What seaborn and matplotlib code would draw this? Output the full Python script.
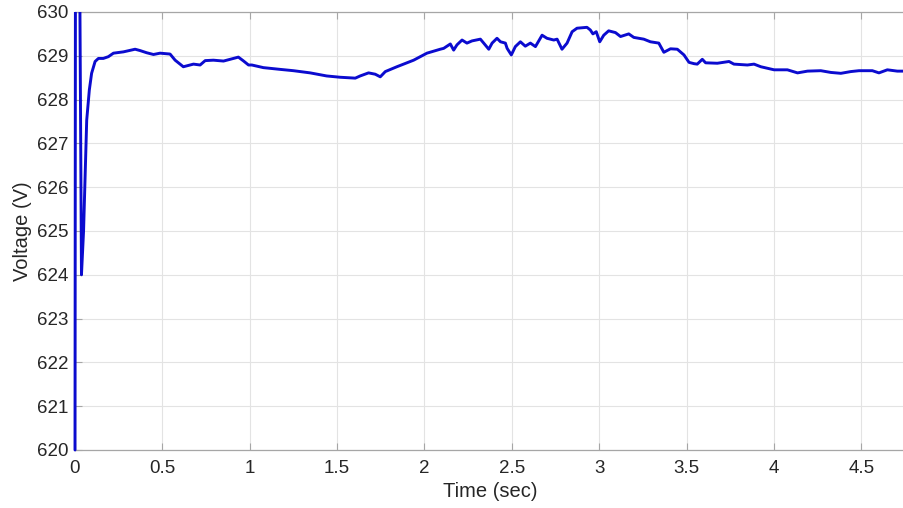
import numpy as np
import pandas as pd
import matplotlib
matplotlib.use("Agg")
import matplotlib.pyplot as plt
import matplotlib.patches as mpatches
import seaborn as sns
from matplotlib.ticker import FuncFormatter

# Data
time_s = [0.0, 0.0, 0.003, 0.024, 0.037, 0.049, 0.067, 0.082, 0.095, 0.115, 0.134,
          0.162, 0.191, 0.22, 0.277, 0.344, 0.372, 0.41, 0.449, 0.487, 0.544, 0.573,
          0.62, 0.678, 0.716, 0.745, 0.792, 0.85, 0.888, 0.935, 0.965, 0.993, 1.012,
          1.078, 1.174, 1.25, 1.346, 1.44, 1.518, 1.604, 1.632, 1.68, 1.718, 1.747,
          1.776, 1.842, 1.938, 2.014, 2.09, 2.11, 2.148, 2.167, 2.186, 2.215, 2.243,
          2.272, 2.32, 2.339, 2.368, 2.387, 2.415, 2.435, 2.463, 2.473, 2.497, 2.52,
          2.549, 2.577, 2.606, 2.635, 2.673, 2.701, 2.74, 2.759, 2.787, 2.816, 2.845,
          2.873, 2.93, 2.949, 2.964, 2.983, 3.003, 3.026, 3.054, 3.093, 3.122, 3.169,
          3.198, 3.255, 3.293, 3.341, 3.37, 3.408, 3.447, 3.485, 3.514, 3.543, 3.561,
          3.59, 3.609, 3.676, 3.743, 3.771, 3.848, 3.886, 3.925, 4.001, 4.077, 4.135,
          4.192, 4.268, 4.326, 4.383, 4.44, 4.487, 4.563, 4.601, 4.649, 4.706, 4.75]
voltage_v = [620.0, 620.0, 633.0, 633.0, 624.0, 625.0, 627.53, 628.22, 628.6, 628.87, 628.94,
             628.94, 628.98, 629.06, 629.09, 629.15, 629.12, 629.07, 629.03, 629.06, 629.04, 628.9,
             628.75, 628.81, 628.79, 628.89, 628.9, 628.88, 628.92, 628.97, 628.88, 628.79, 628.79,
             628.73, 628.69, 628.66, 628.61, 628.54, 628.51, 628.49, 628.54, 628.61, 628.58, 628.52,
             628.64, 628.75, 628.9, 629.06, 629.15, 629.17, 629.27, 629.13, 629.25, 629.36, 629.29,
             629.34, 629.38, 629.29, 629.15, 629.29, 629.4, 629.32, 629.29, 629.17, 629.02, 629.21,
             629.32, 629.22, 629.29, 629.21, 629.47, 629.4, 629.36, 629.38, 629.15, 629.29, 629.55,
             629.63, 629.65, 629.59, 629.5, 629.55, 629.32, 629.47, 629.57, 629.53, 629.44, 629.5,
             629.42, 629.38, 629.32, 629.29, 629.08, 629.16, 629.15, 629.02, 628.85, 628.82, 628.81,
             628.92, 628.84, 628.83, 628.87, 628.81, 628.79, 628.81, 628.75, 628.68, 628.68, 628.61,
             628.65, 628.66, 628.62, 628.6, 628.64, 628.66, 628.66, 628.61, 628.68, 628.65, 628.65]

x_ticks = [0, 0.5, 1, 1.5, 2, 2.5, 3, 3.5, 4, 4.5]
y_ticks = [620, 621, 622, 623, 624, 625, 626, 627, 628, 629, 630]
x_label = "Time (sec)"
y_label = "Voltage (V)"

sns.set_theme(style="white")
plt.rcParams['font.family'] = ['Liberation Sans', 'DejaVu Sans']

df = pd.DataFrame({"t": time_s, "v": voltage_v})

fig = plt.figure(figsize=(9.04, 5.08), dpi=100)
ax = fig.add_axes([75 / 904, 58 / 508, 830 / 904, 438 / 508])

sns.lineplot(data=df, x="t", y="v", sort=False, estimator=None, ax=ax,
             color="#0b0bcf", linewidth=2.1)

# clip region slightly wider on the left/bottom so the edge segment shows full width
clip = mpatches.Rectangle((-0.006, -0.006), 1.01, 1.006, transform=ax.transAxes,
                          facecolor="none", edgecolor="none")
ax.add_patch(clip)
for ln in ax.lines:
    ln.set_clip_path(clip)
    ln.set_zorder(5)

ax.set_xlim(0, 4.75)
ax.set_ylim(620, 630)
ax.set_xticks(x_ticks)
ax.set_yticks(y_ticks)
ax.xaxis.set_major_formatter(FuncFormatter(lambda v, p: f"{v:g}"))
ax.grid(True, color="#e3e3e3", linewidth=0.8)
ax.set_axisbelow(True)

for s in ["left", "bottom", "top"]:
    ax.spines[s].set_color("#a6a6a6")
    ax.spines[s].set_linewidth(0.9)
ax.spines["right"].set_visible(False)

ax.tick_params(axis="both", direction="in", length=5, width=0.8, color="#a6a6a6",
               labelsize=13.5, labelcolor="#262626", top=True, bottom=True, left=True)
ax.tick_params(axis="x", pad=7)
ax.tick_params(axis="y", pad=5)
ax.set_xlabel(x_label, fontsize=14.5, color="#262626", labelpad=4)
ax.set_ylabel(y_label, fontsize=14.5, color="#262626", labelpad=3)

fig.savefig("out.png", dpi=100)
